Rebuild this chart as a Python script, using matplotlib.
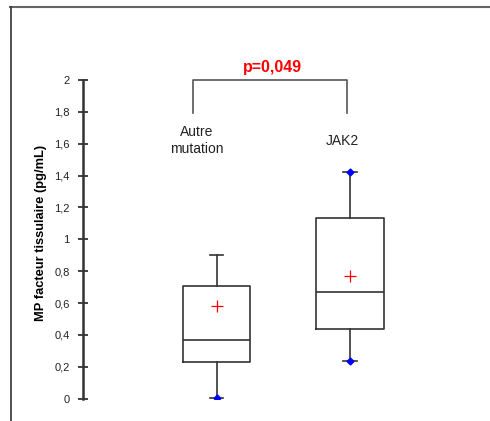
import matplotlib
matplotlib.use("Agg")
import matplotlib.pyplot as plt
from matplotlib.lines import Line2D
from matplotlib.ticker import FuncFormatter

plt.rcParams['font.family'] = ['Liberation Sans', 'DejaVu Sans']

# valeurs
groupes = ["Autre\nmutation", "JAK2"]
q1 = [0.23, 0.44]
mediane = [0.37, 0.67]
q3 = [0.705, 1.137]
minimum = [0.005, 0.238]
maximum = [0.90, 1.42]
moyenne = [0.582, 0.767]
points_bleus = [[0.005], [0.238, 1.42]]
p_valeur = "p=0,049"

W, H = 490, 421
fig = plt.figure(figsize=(W / 100, H / 100), dpi=100)

# axe: 0 -> y=398.7 px, 2 -> y=80 px, boite 1 a x=216.7, boite 2 a x=350
px_unit = 133.3
ax = fig.add_axes([83 / W, (H - 398.7) / H, 387 / W, (398.7 - 80) / H])
ax.set_ylim(0, 2)
ax.set_xlim(1 - (216.7 - 83) / px_unit, 2 + (470 - 350) / px_unit)

stats = []
for i in range(len(groupes)):
    stats.append(dict(med=mediane[i], q1=q1[i], q3=q3[i], whislo=minimum[i],
                      whishi=maximum[i], mean=moyenne[i], fliers=[]))

gris = "#333333"
ax.bxp(stats, positions=[1, 2], widths=0.507, showmeans=True, showfliers=False,
       boxprops=dict(color=gris, linewidth=1.2),
       whiskerprops=dict(color=gris, linewidth=1.2),
       capprops=dict(color=gris, linewidth=1.2),
       medianprops=dict(color=gris, linewidth=1.2),
       meanprops=dict(marker="+", markeredgecolor="red", markersize=9, markeredgewidth=0.9),
       capwidths=0.1)

for i, pts in enumerate(points_bleus):
    ax.plot([i + 1] * len(pts), pts, linestyle="none", marker="D", markersize=3.5,
            color="blue", zorder=5)

# crochet de significativite
ax.plot([0.82, 0.82, 1.978, 1.978], [1.79, 2.0, 2.0, 1.79], color="#555555",
        linewidth=1.2, clip_on=False)
ax.text(1.416, 2.08, p_valeur, color="red", fontweight="bold", fontsize=11.5,
        ha="center", va="center", clip_on=False)
ax.text(0.853, 1.618, groupes[0], fontsize=10, ha="center", va="center",
        linespacing=1.25, color="#222222")
ax.text(1.94, 1.618, groupes[1], fontsize=10, ha="center", va="center",
        color="#222222")

for s in ["top", "right", "bottom"]:
    ax.spines[s].set_visible(False)
ax.spines["left"].set_color(gris)
ax.spines["left"].set_linewidth(1.8)
ax.set_xticks([])
ax.set_yticks([0, 0.2, 0.4, 0.6, 0.8, 1, 1.2, 1.4, 1.6, 1.8, 2])
ax.yaxis.set_major_formatter(FuncFormatter(lambda v, p: f"{v:g}".replace(".", ",")))
ax.tick_params(axis="y", direction="inout", length=7, width=1.3, color=gris,
               labelsize=8, pad=6, labelcolor="#222222")
ax.set_ylabel("MP facteur tissulaire (pg/mL)", fontsize=9.3, fontweight="bold")
ax.yaxis.set_label_coords((47 - 83) / 387, 0.52)

# cadre
fig.add_artist(Line2D([10 / W, 1], [(H - 7) / H] * 2, color="#666666", linewidth=1.5))
fig.add_artist(Line2D([11 / W] * 2, [0, (H - 7) / H], color="#333333", linewidth=1.2))

fig.savefig("out.png", dpi=100)
